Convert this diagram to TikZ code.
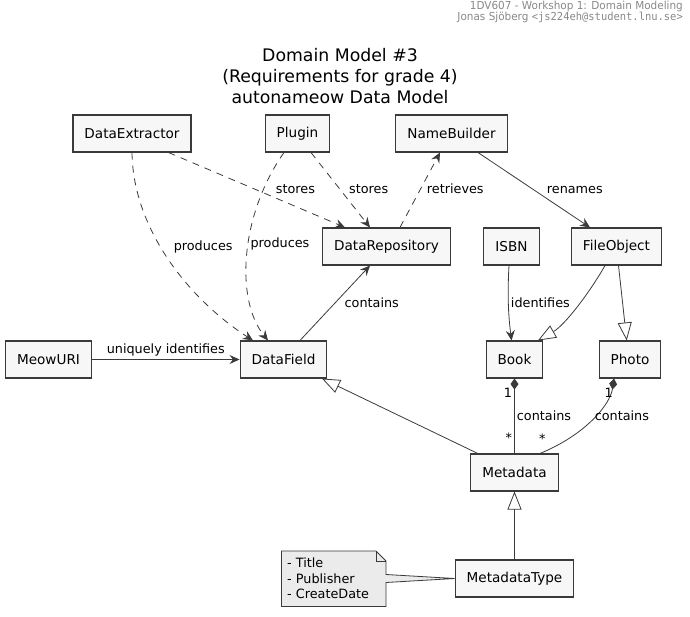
\documentclass[tikz,border=0pt]{standalone}
\usepackage{fontspec}
\setmainfont{DejaVu Sans}
\newfontfamily\headmono{DejaVu Sans Mono}
\usetikzlibrary{arrows.meta}
\definecolor{linec}{HTML}{3A3A3A}
\definecolor{boxc}{HTML}{F7F7F7}
\definecolor{notec}{HTML}{EBEBEB}
\definecolor{headc}{HTML}{888888}

\begin{document}
\begin{tikzpicture}[x=1pt, y=-1pt,
  cls/.style={draw=linec, fill=boxc, line width=1.1pt, minimum height=37pt, inner xsep=11.5pt, font=\fontsize{13.6}{16}\selectfont},
  lbl/.style={font=\fontsize{12.8}{15}\selectfont, inner sep=1pt},
  assoc/.style={draw=linec, line width=0.8pt, -{Stealth[length=10pt,width=9pt,inset=3.5pt]}},
  dep/.style={assoc, dash pattern=on 7pt off 6pt},
  inherit/.style={draw=linec, line width=0.8pt, -{Triangle[length=18pt,width=14pt,fill=white]}},
  comp/.style={draw=linec, line width=0.8pt, {Diamond[length=11pt,width=8pt]}-}]
\useasboundingbox (0,0) rectangle (690,617);

\node[anchor=east, text=headc, font=\fontsize{11}{12}\selectfont, inner sep=0pt] (head1) at (683,6.5) {\scalebox{0.95}[1]{1DV607 - Workshop 1: Domain Modeling}};
\node[anchor=east, text=headc, font=\fontsize{11}{12}\selectfont, inner sep=0pt] (head2) at (683,17.5) {\scalebox{0.95}[1]{Jonas Sjöberg {\headmono <js224eh@student.lnu.se>}}};
\node[align=center, font=\fontsize{17.3}{21}\selectfont] (title) at (340,76) {Domain Model \#3\\(Requirements for grade 4)\\autonameow Data Model};

\node[cls] (ext) at (132,133.5) {DataExtractor};
\node[cls] (plug) at (297.5,133.5) {Plugin};
\node[cls] (nb) at (451.5,133.5) {NameBuilder};
\node[cls] (repo) at (386.5,246.5) {DataRepository};
\node[cls] (isbn) at (511.5,246.5) {ISBN};
\node[cls] (fobj) at (616.5,246.5) {FileObject};
\node[cls] (uri) at (48.5,359.5) {MeowURI};
\node[cls] (field) at (283.5,359.5) {DataField};
\node[cls] (book) at (514.5,359.5) {Book};
\node[cls] (photo) at (630,359.5) {Photo};
\node[cls] (meta) at (514.5,472.5) {Metadata};
\node[cls] (mtype) at (514.5,578.5) {MetadataType};

\draw[draw=linec, fill=notec, line width=0.8pt] (281.5,551) -- (376,551) -- (386,561) -- (386,574.5) -- (mtype.west) -- (386,582.5) -- (386,606.5) -- (281.5,606.5) -- cycle;
\draw[draw=linec, line width=0.8pt] (376,551) -- (376,561) -- (386,561);
\node[lbl, anchor=west, align=left, inner sep=0pt, font=\fontsize{12.8}{15.7}\selectfont] (note) at (287,578.5) {- Title\\- Publisher\\- CreateDate};

\draw[dep] (ext.south) .. controls (133,230) and (190,300) .. ([xshift=-30.5pt]field.north) node[lbl, pos=0.43, anchor=west, xshift=12pt] {produces};
\draw[dep] ([xshift=-23pt]ext.south east) -- ([xshift=-41.5pt]repo.north) node[lbl, pos=0.487, anchor=west, xshift=20pt] {stores};
\draw[dep] ([xshift=-13.5pt]plug.south) .. controls (240,215) and (235,300) .. ([xshift=-15.5pt]field.north) node[lbl, pos=0.45, anchor=west, xshift=1pt] {produces};
\draw[dep] ([xshift=13.5pt]plug.south) -- ([xshift=-16.5pt]repo.north) node[lbl, pos=0.487, anchor=west, xshift=8pt] {stores};
\draw[dep] ([xshift=13.5pt]repo.north) -- ([xshift=-11.5pt]nb.south) node[lbl, pos=0.513, anchor=west, xshift=5pt] {retrieves};
\draw[assoc] ([xshift=26.5pt]nb.south) -- ([xshift=-26.5pt]fobj.north) node[lbl, pos=0.5, anchor=west, xshift=11.5pt] {renames};
\draw[assoc] ([xshift=16.5pt]field.north) -- ([xshift=-16.5pt]repo.south) node[lbl, pos=0.504, anchor=west, xshift=8pt] {contains};
\draw[assoc] (uri.east) -- (field.west) node[lbl, midway, above=2pt] {uniquely identifies};
\draw[assoc] ([xshift=-2.5pt]isbn.south) .. controls (507,300) and (509,320) .. ([xshift=-3pt]book.north) node[lbl, pos=0.5, anchor=west, xshift=1pt, yshift=6pt] {identifies};
\draw[inherit] ([xshift=-11.5pt]fobj.south) .. controls (590,292) and (565,325) .. ([xshift=-5.5pt]book.north east);
\draw[inherit] ([xshift=2pt]fobj.south) -- ([xshift=-3.3pt]photo.north);
\draw[comp] (book.south) -- (meta.north) node[lbl, pos=0.5, anchor=west, xshift=1pt] {contains} node[lbl, pos=0.19, anchor=east, xshift=-1pt] {1} node[lbl, pos=0.79, anchor=east, xshift=-1pt] {*};
\draw[comp] ([xshift=-16pt]photo.south) .. controls (610,405) and (585,435) .. ([xshift=25.5pt]meta.north) node[lbl, pos=0.5, anchor=west, xshift=1pt, yshift=3pt] {contains} node[lbl, pos=0.17, anchor=east, xshift=4pt, yshift=-1pt] {1} node[lbl, pos=0.85, anchor=east, xshift=-12pt, yshift=6pt] {*};
\draw[inherit] ([xshift=7.5pt]meta.north west) -- ([xshift=-5.5pt]field.south east);
\draw[inherit] (mtype.north) -- (meta.south);
\end{tikzpicture}
\end{document}
